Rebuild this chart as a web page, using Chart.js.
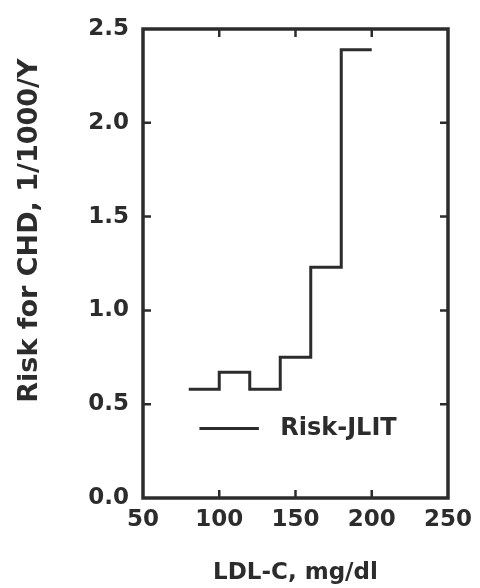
<!DOCTYPE html>
<html>
<head>
<meta charset="utf-8">
<script src="https://cdn.jsdelivr.net/npm/chart.js@4/dist/chart.umd.min.js"></script>
<style>
  html, body { margin: 0; padding: 0; background: #fff; }
  #wrap { width: 480px; height: 588px; }
</style>
</head>
<body>
<div id="wrap"><canvas id="chartRisk" width="480" height="588"></canvas></div>
<script>
// LDL-C bin edges (mg/dl) and risk per bin (1/1000/Y)
const ldl = [80, 100, 120, 140, 160, 180, 200];
const risk = [0.58, 0.67, 0.58, 0.75, 1.23, 2.39, 2.39];
const xTicks = [50, 100, 150, 200, 250];
const yTicks = [0.0, 0.5, 1.0, 1.5, 2.0, 2.5];
const seriesName = 'Risk-JLIT';

const ink = '#2c2c2c';
const fontFam = '"DejaVu Sans", "Liberation Sans", Arial, sans-serif';

// frame, inward ticks and the in-plot legend
const framePlugin = {
    id: 'frame',
    afterDatasetsDraw(chart) {
        const {ctx, chartArea: a, scales: {x, y}} = chart;
        ctx.save();
        ctx.strokeStyle = ink;
        ctx.lineWidth = 3.5;
        ctx.strokeRect(a.left, a.top, a.right - a.left, a.bottom - a.top);

        ctx.lineWidth = 2.5;
        const len = 8;
        xTicks.slice(1, -1).forEach(v => {
            const px = x.getPixelForValue(v);
            ctx.beginPath();
            ctx.moveTo(px, a.bottom); ctx.lineTo(px, a.bottom - len);
            ctx.moveTo(px, a.top); ctx.lineTo(px, a.top + len);
            ctx.stroke();
        });
        yTicks.slice(1, -1).forEach(v => {
            const py = y.getPixelForValue(v);
            ctx.beginPath();
            ctx.moveTo(a.left, py); ctx.lineTo(a.left + len, py);
            ctx.moveTo(a.right, py); ctx.lineTo(a.right - len, py);
            ctx.stroke();
        });

        // legend
        const ly = y.getPixelForValue(0.37);
        const lx0 = x.getPixelForValue(87);
        const lx1 = x.getPixelForValue(126);
        ctx.lineWidth = 3;
        ctx.beginPath();
        ctx.moveTo(lx0, ly); ctx.lineTo(lx1, ly);
        ctx.stroke();
        ctx.fillStyle = ink;
        ctx.font = 'bold 24px ' + fontFam;
        ctx.textAlign = 'left';
        ctx.textBaseline = 'middle';
        ctx.fillText(chart.data.datasets[0].label, x.getPixelForValue(140), ly);
        ctx.restore();
    }
};

const ctx = document.getElementById('chartRisk').getContext('2d');
const myChart = new Chart(ctx, {
    type: 'line',
    data: {
        datasets: [{
            label: seriesName,
            data: ldl.map((v, i) => ({x: v, y: risk[i]})),
            stepped: 'before',
            fill: false,
            borderColor: ink,
            borderWidth: 3,
            pointRadius: 0
        }]
    },
    options: {
        responsive: false,
        animation: false,
        layout: { padding: { top: 29, right: 27, left: 0, bottom: 0 } },
        plugins: {
            legend: { display: false },
            tooltip: { enabled: false }
        },
        scales: {
            x: {
                type: 'linear',
                min: 50, max: 250,
                afterBuildTicks: s => { s.ticks = xTicks.map(v => ({value: v})); },
                afterFit: s => { s.height = 90; },
                grid: { display: false, drawTicks: false },
                border: { display: false },
                ticks: {
                    padding: 8,
                    color: ink,
                    font: { family: fontFam, size: 23, weight: 'bold' },
                    maxRotation: 0
                },
                title: {
                    display: true,
                    text: 'LDL-C, mg/dl',
                    color: ink,
                    font: { family: fontFam, size: 23, weight: 'bold' },
                    padding: { top: 0, bottom: 1 }
                }
            },
            y: {
                min: 0, max: 2.5,
                afterBuildTicks: s => { s.ticks = yTicks.map(v => ({value: v})); },
                afterFit: s => { s.width = 143; },
                grid: { display: false, drawTicks: false },
                border: { display: false },
                ticks: {
                    padding: 14,
                    color: ink,
                    font: { family: fontFam, size: 23, weight: 'bold' },
                    callback: v => v.toFixed(1)
                },
                title: {
                    display: true,
                    // leading spaces nudge the centred title up, as in the original
                    text: '\u00a0'.repeat(7) + 'Risk for CHD, 1/1000/Y',
                    color: ink,
                    font: { family: fontFam, size: 27, weight: 'bold' },
                    padding: { top: 14, bottom: 0 }
                }
            }
        }
    },
    plugins: [framePlugin]
});
</script>
</body>
</html>
